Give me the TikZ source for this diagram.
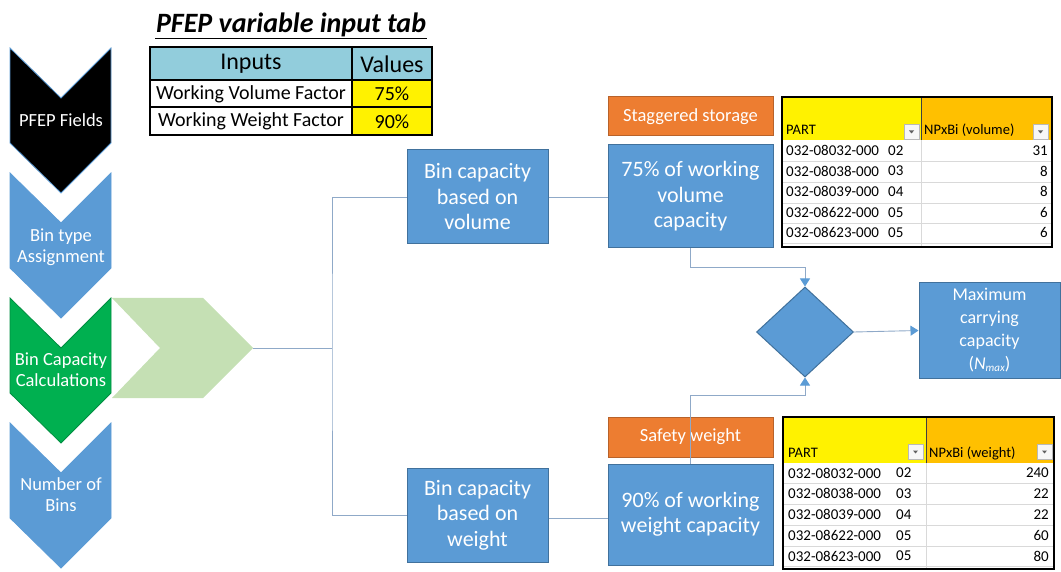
\documentclass[tikz,border=0pt]{standalone}
\usepackage{fontspec}
\setmainfont{Carlito}
\usetikzlibrary{shapes.geometric,arrows.meta,calc}

\definecolor{boxblue}{HTML}{5B9BD5}
\definecolor{boxedge}{HTML}{41719C}
\definecolor{stepgreen}{HTML}{00B050}
\definecolor{palegreen}{HTML}{C5E0B4}
\definecolor{boxorange}{HTML}{ED7D31}
\definecolor{orangeedge}{HTML}{B8622A}
\definecolor{linkgray}{HTML}{8FA9C8}
\definecolor{headcyan}{HTML}{92CDDC}
\definecolor{hdrorange}{HTML}{FFC000}
\definecolor{gridgray}{HTML}{D9D9D9}

\newcommand\fsz[2]{\fontsize{#1}{#2}\selectfont}
% downward chevron: top-left corner y given
\newcommand\downchev[3]{%
  \filldraw[fill=#2,draw=#3,line width=0.8pt]
    (10,#1) -- ++(51,50) -- ++(50,-50) -- ++(0,95) -- ++(-50,50) -- ++(-51,-50) -- cycle;}
% filter drop-down button in a table header
\newcommand\ddbtn[2]{%
  \begin{scope}[shift={(#1,#2)}]
    \filldraw[fill=gray!6,draw=gray!55,line width=0.6pt] (0,0) rectangle (15,15);
    \fill[gray!75!black] (5,6.5) -- (10,6.5) -- (7.5,9.5) -- cycle;
  \end{scope}}

\begin{document}
\begin{tikzpicture}[x=1pt,y=-1pt,
  bluebox/.style={draw=boxedge,line width=1pt,fill=boxblue,text=white,align=center,
    inner sep=0pt,font=\fsz{22}{25.5}},
  orangebox/.style={draw=orangeedge,line width=1pt,fill=boxorange,text=white,
    inner sep=0pt,font=\fsz{18.5}{21}},
  chevtext/.style={text=white,align=center,font=\fsz{18.5}{21}},
  link/.style={draw=linkgray,line width=0.9pt},
  arr/.style={link,-{Triangle[width=10pt,length=8pt,color=boxblue]}},
  tcell/.style={font=\fsz{15}{17},inner sep=0pt,anchor=west},
  hcell/.style={font=\fsz{14.5}{16},inner sep=0pt,anchor=base west},
  incell/.style={font=\fsz{20}{22},inner sep=0pt},
]
\useasboundingbox (0,0) rectangle (1061,572);

% ---- process chevrons on the left ----
\downchev{48}{black}{boxblue}
\downchev{173}{boxblue}{boxblue}
\downchev{298}{stepgreen}{stepgreen!80!black}
\downchev{423}{boxblue}{boxblue}
\node[chevtext] (fields) at (61,120) {PFEP Fields};
\node[chevtext] (bintype) at (61,247) {Bin type\\Assignment};
\node[chevtext] (bincalc) at (61,370) {Bin Capacity\\Calculations};
\node[chevtext] (numbins) at (61,495) {Number of\\Bins};

% expansion arrow of the current step
\fill[palegreen] (112,298) -- (203,298) -- (253,348) -- (203,398) -- (112,398) -- (160,348) -- cycle;
\coordinate (gtip) at (253,348);
\coordinate (spine) at (332,348);

% ---- title and input table ----
\node[font=\fsz{28}{32}\bfseries\itshape,anchor=base,inner sep=0pt] (title) at (291,33) {PFEP variable input tab};
\draw[line width=1.6pt] (155,38.5) -- (427,38.5);

\fill[headcyan] (150,47) rectangle (432,80);
\fill[yellow] (352,80) rectangle (432,135);
\draw[line width=1.6pt] (150,47) rectangle (432,135);
\draw[line width=1.6pt] (150,80) -- (432,80) (150,107) -- (432,107) (352,47) -- (352,135);
\node[font=\fsz{24}{26},inner sep=0pt] (inhead) at (251,64) {Inputs};
\node[font=\fsz{24}{26},inner sep=0pt] (valhead) at (392,64) {Values};
\node[incell] (wvf) at (251,94) {Working Volume Factor};
\node[incell] (wvv) at (392,94) {75\%};
\node[incell] (wwf) at (251,121.5) {Working Weight Factor};
\node[incell] (wwv) at (392,121.5) {90\%};

% ---- boxes ----
\node[bluebox,minimum width=141pt,minimum height=94pt] (binvol) at (477.5,197) {Bin capacity\\based on\\volume};
\node[bluebox,minimum width=141pt,minimum height=94pt] (binwt) at (477.5,515) {Bin capacity\\based on\\weight};
\node[orangebox,minimum width=165pt,minimum height=39pt] (stag) at (690.5,116.5) {Staggered storage};
\node[bluebox,minimum width=165pt,minimum height=103pt] (pct75) at (690.5,196.5) {75\% of working\\volume\\capacity};
\node[orangebox,minimum width=165pt,minimum height=40pt] (safe) at (690.5,437) {Safety weight};
\node[bluebox,minimum width=165pt,minimum height=101pt] (pct90) at (690.5,514.5) {90\% of working\\weight capacity};
\node[diamond,draw=boxedge,line width=1pt,fill=boxblue,minimum width=97pt,minimum height=90pt,inner sep=0pt] (dia) at (805,332) {};
\node[bluebox,font=\fsz{18}{23},minimum width=141pt,minimum height=95pt] (maxcap) at (989.5,330.5)
  {Maximum\\carrying\\capacity\\(\textit{N}\raisebox{-2pt}{\fsz{11}{12}\itshape max})};

% ---- connectors ----
\draw[link] (gtip) -- (spine);
\draw[link] (binvol.west) -| (spine) |- (binwt.west);
\draw[link] (binvol.east) -- (binvol.east -| pct75.west);
\draw[link] ($(binwt.east)+(0,3)$) -- ($(binwt.east -| pct90.west)+(0,3)$);
\draw[arr] (pct75.south) -- ++(0,19) -| (dia.north);
\draw[arr] (pct90.north) -- ++(0,-68) -| (dia.south);
\draw[arr] (dia.east) -- (maxcap.west);

% ---- volume table ----
\fill[yellow] (782,97) rectangle (921,140);
\fill[hdrorange] (921,97) rectangle (1052,140);
\foreach \yy in {161,182,203,223,243} \draw[gridgray,line width=0.8pt] (782,\yy) -- (1052,\yy);
\draw[gridgray,line width=0.8pt] (921,140) -- (921,247);
\draw[black!75,line width=1pt] (921,97) -- (921,140);
\draw[line width=1.6pt] (782,97) rectangle (1052,247);
\node[hcell] (vparthd) at (786,135) {PART};
\node[hcell] (vnphd) at (924,135) {NPxBi (volume)};
\ddbtn{904}{124}
\ddbtn{1033}{124}
\foreach \p/\s/\v [count=\i] in {08032/02/31,08038/03/8,08039/04/8,08622/05/6,08623/05/6}{
  \pgfmathsetmacro\yc{150.5+20.6*(\i-1)}
  \node[tcell] (vpart\i) at (786,\yc) {032-\p-000};
  \node[tcell] (vsfx\i) at (888,\yc) {\s};
  \node[tcell,anchor=east] (vval\i) at (1048,\yc) {\v};
}

% ---- weight table ----
\fill[yellow] (783,417) rectangle (926,463);
\fill[hdrorange] (926,417) rectangle (1054,463);
\foreach \yy in {483,504,525,546,566} \draw[gridgray,line width=0.8pt] (783,\yy) -- (1054,\yy);
\draw[gridgray,line width=0.8pt] (926,463) -- (926,569);
\draw[black!75,line width=1pt] (926,417) -- (926,463);
\draw[line width=1.6pt] (783,417) rectangle (1054,569);
\node[hcell] (wparthd) at (788,457) {PART};
\node[hcell] (wnphd) at (929,457) {NPxBi (weight)};
\ddbtn{908}{444}
\ddbtn{1037}{444}
\foreach \p/\s/\v [count=\i] in {08032/02/240,08038/03/22,08039/04/22,08622/05/60,08623/05/80}{
  \pgfmathsetmacro\yc{473+20.75*(\i-1)}
  \node[tcell] (wpart\i) at (788,\yc) {032-\p-000};
  \node[tcell] (wsfx\i) at (896,\yc) {\s};
  \node[tcell,anchor=east] (wval\i) at (1049,\yc) {\v};
}
\end{tikzpicture}
\end{document}
